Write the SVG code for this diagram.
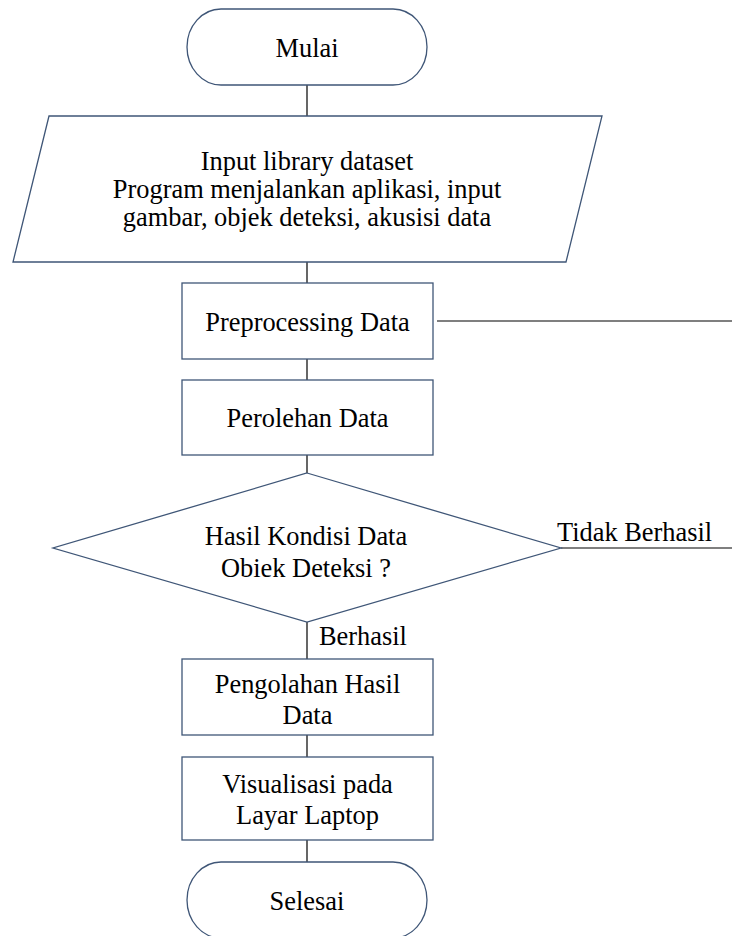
<svg xmlns="http://www.w3.org/2000/svg" width="732" height="936" viewBox="0 0 732 936">
<style>
.shape{fill:#ffffff;stroke:#3f5677;stroke-width:1.3}
.conn{stroke:#000000;stroke-width:1.2;fill:none}
text{font-family:"Liberation Serif","Times New Roman",serif;font-size:26.4px;fill:#000000}
.c{text-anchor:middle}
</style>
<rect width="732" height="936" fill="#ffffff"/>
<g id="connectors">
<line class="conn" x1="307" y1="85" x2="307" y2="116"/>
<line class="conn" x1="307" y1="262" x2="307" y2="283"/>
<line class="conn" x1="307" y1="359" x2="307" y2="380"/>
<line class="conn" x1="307" y1="455" x2="307" y2="473"/>
<line class="conn" x1="437" y1="321" x2="732" y2="321"/>
<line class="conn" x1="561" y1="548" x2="732" y2="548"/>
<line class="conn" x1="307" y1="622" x2="307" y2="659"/>
<line class="conn" x1="307" y1="735" x2="307" y2="757"/>
<line class="conn" x1="307" y1="840" x2="307" y2="862"/>
</g>
<g id="mulai">
<rect class="shape" x="187" y="9" width="240" height="76" rx="34" ry="38"/>
<text class="c" x="307" y="57">Mulai</text>
</g>
<g id="input">
<polygon class="shape" points="49,116 602,116 566,262 13,262"/>
<text class="c" x="307" y="170">Input library dataset</text>
<text class="c" x="307" y="198">Program menjalankan aplikasi, input</text>
<text class="c" x="307" y="226">gambar, objek deteksi, akusisi data</text>
</g>
<g id="preprocessing">
<rect class="shape" x="182" y="283" width="251" height="76"/>
<text class="c" x="307.5" y="331">Preprocessing Data</text>
</g>
<g id="perolehan">
<rect class="shape" x="182" y="380" width="251" height="75"/>
<text class="c" x="307.5" y="427">Perolehan Data</text>
</g>
<g id="decision">
<polygon class="shape" points="307,473 561,548 307,622 53,548"/>
<text class="c" x="306" y="545">Hasil Kondisi Data</text>
<text class="c" x="306" y="577">Obiek Deteksi ?</text>
</g>
<g id="label-tidak">
<text x="557" y="541">Tidak Berhasil</text>
</g>
<g id="label-berhasil">
<text x="319" y="645">Berhasil</text>
</g>
<g id="pengolahan">
<rect class="shape" x="182" y="659" width="251" height="76"/>
<text class="c" x="307.5" y="693">Pengolahan Hasil</text>
<text class="c" x="307.5" y="724">Data</text>
</g>
<g id="visualisasi">
<rect class="shape" x="182" y="757" width="251" height="83"/>
<text class="c" x="307.5" y="793">Visualisasi pada</text>
<text class="c" x="307.5" y="824">Layar Laptop</text>
</g>
<g id="selesai">
<rect class="shape" x="187" y="862" width="240" height="76" rx="34" ry="38"/>
<text class="c" x="307" y="910">Selesai</text>
</g>
</svg>
